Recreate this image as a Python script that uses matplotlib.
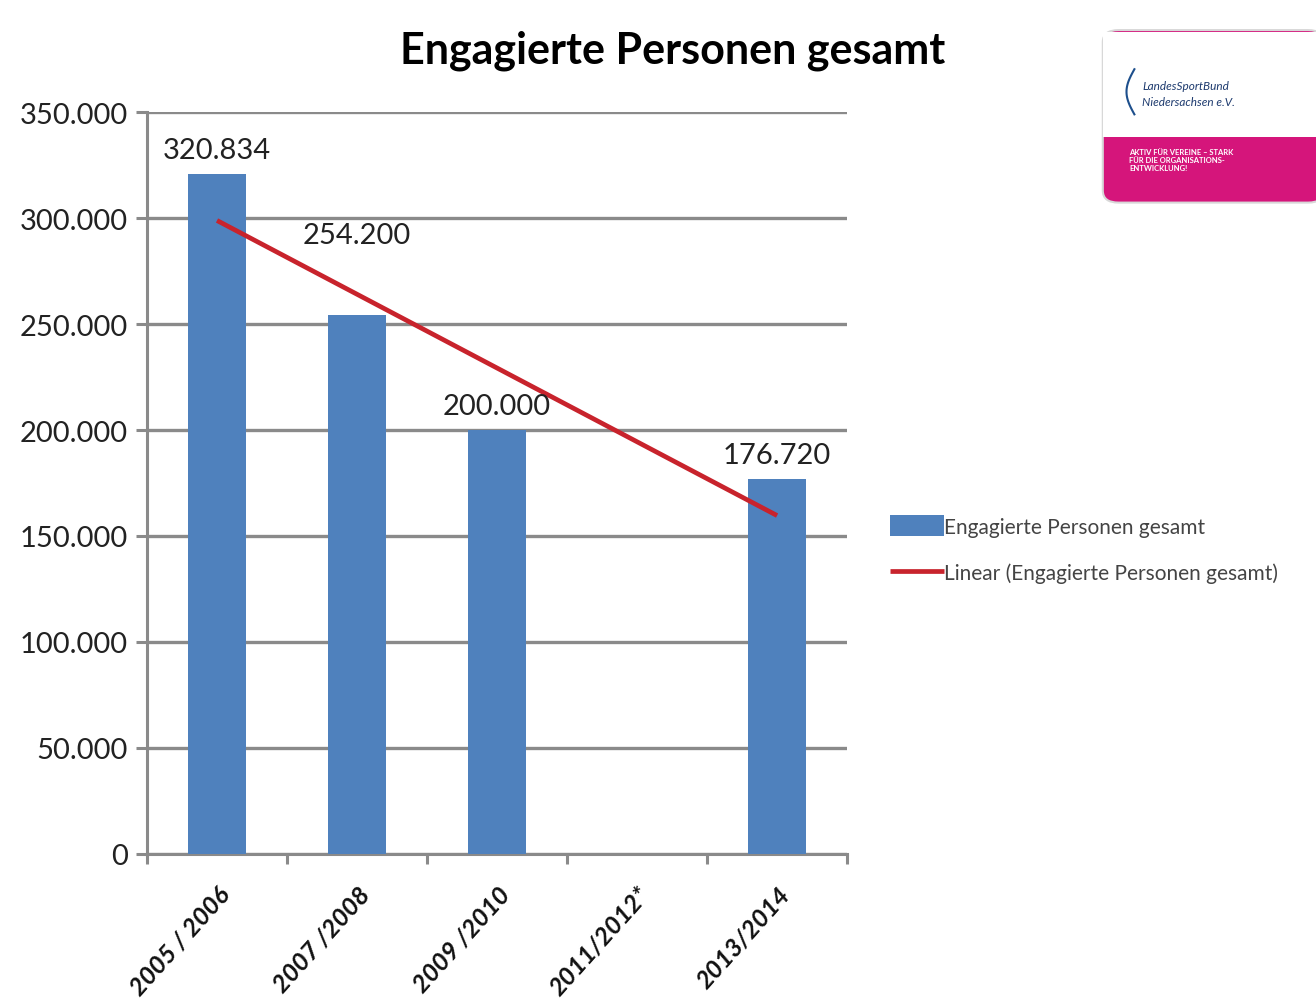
import numpy as np
import matplotlib.pyplot as plt
from matplotlib.patches import FancyBboxPatch, Rectangle
from matplotlib.ticker import FuncFormatter

jahre = ['2005 / 2006', '2007 /2008', '2009 /2010', '2011/2012*', '2013/2014']
personen = [320834, 254200, 200000, np.nan, 176720]
titel = 'Engagierte Personen gesamt'

plt.rcParams['font.family'] = ['Lato', 'DejaVu Sans']

def punkt(v, pos=None):
    return f'{int(v):,}'.replace(',', '.')

fig = plt.figure(figsize=(13.16, 10.03), dpi=100)
ax = fig.add_axes([0.1117, 0.1476, 0.532, 0.7397])

x = np.arange(len(jahre))
blau = '#4f81bd'
grau = '#8a8a8a'
balken = ax.bar(x, personen, width=0.41, color=blau, zorder=3, label='Engagierte Personen gesamt')

# linearer trend ueber vorhandene werte
ok = ~np.isnan(np.array(personen, dtype=float))
k, d = np.polyfit(x[ok], np.array(personen)[ok], 1)
linie, = ax.plot(x[[0, -1]], k * x[[0, -1]] + d, color='#c8232c', lw=3.4, zorder=4,
                 solid_capstyle='butt', label='Linear (Engagierte Personen gesamt)')

# datenbeschriftungen
versatz = {1: (0, 48)}
for i, v in enumerate(personen):
    if np.isnan(v):
        continue
    dx, dy = versatz.get(i, (0, 8))
    ax.annotate(punkt(v), (x[i], v), xytext=(dx, dy), textcoords='offset points',
                ha='center', va='bottom', fontsize=21, color='#222222', zorder=5)

ax.set_xlim(-0.5, len(jahre) - 0.5)
ax.set_ylim(0, 350000)
ax.set_yticks(np.arange(0, 350001, 50000))
ax.yaxis.set_major_formatter(FuncFormatter(punkt))
ax.tick_params(axis='y', labelsize=21, length=8, width=2.2, color=grau, pad=6, labelcolor='#222222')
ax.grid(axis='y', color=grau, lw=2.4, zorder=1)
ax.set_axisbelow(True)

ax.set_xticks(x)
ax.set_xticklabels(jahre, rotation=48, ha='right', rotation_mode='anchor',
                   fontsize=18, fontweight='bold', fontstyle='italic', color='#111111')
ax.set_xticks(np.arange(-0.5, len(jahre)), minor=True)
ax.tick_params(axis='x', which='major', length=0, pad=20)
ax.tick_params(axis='x', which='minor', length=7, width=2.2, color=grau)

for s in ['top', 'right']:
    ax.spines[s].set_visible(False)
for s in ['left', 'bottom']:
    ax.spines[s].set_color(grau)
    ax.spines[s].set_linewidth(2.2)

fig.text(0.511, 0.949, titel, ha='center', va='center', fontsize=31, fontweight='bold')

fig.legend([balken, linie], [balken.get_label(), linie.get_label()],
           loc='upper left', bbox_to_anchor=(0.665, 0.5), frameon=False,
           fontsize=15, handlelength=2.6, handleheight=1.2, handletextpad=0.0,
           labelspacing=1.2, labelcolor='#444444', borderaxespad=0.3)

# logo angedeutet
fig.patches.append(FancyBboxPatch((0.838, 0.797), 0.168, 0.172, boxstyle='round,pad=0,rounding_size=0.012',
                                  transform=fig.transFigure, fc='#d5157b', ec='#d8d8d8', lw=1.5))
fig.patches.append(Rectangle((0.838, 0.862), 0.168, 0.105, transform=fig.transFigure,
                             fc='white', ec='none'))
t = np.linspace(0, 1, 30)
fig.add_artist(plt.Line2D(0.862 - 0.006 * np.sin(np.pi * t), 0.885 + 0.045 * t,
                          transform=fig.transFigure, color='#1d4f8c', lw=1.5))
fig.text(0.868, 0.91, 'LandesSportBund', fontsize=8.5, style='italic', color='#1d3a6e')
fig.text(0.868, 0.894, 'Niedersachsen e.V.', fontsize=8.5, style='italic', color='#1d3a6e')
fig.text(0.858, 0.84, 'AKTIV FÜR VEREINE – STARK\nFÜR DIE ORGANISATIONS-\nENTWICKLUNG!',
         fontsize=5.5, color='white', fontweight='bold', va='center', linespacing=1.1)

fig.savefig('out.png', dpi=100)
